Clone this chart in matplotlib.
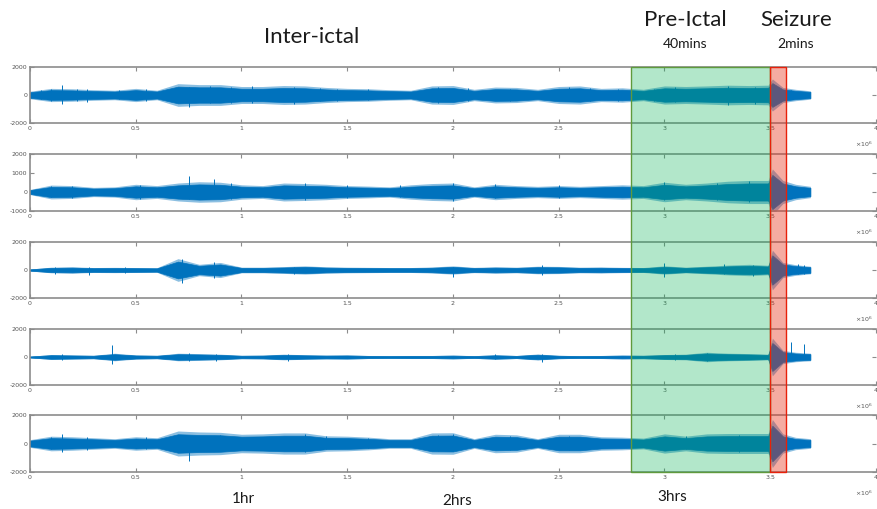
import matplotlib
matplotlib.use("Agg")
import matplotlib.pyplot as plt
import matplotlib.transforms as mtransforms
from matplotlib.patches import Rectangle
import numpy as np

# time axis of the amplitude envelope (x 1e6 samples)
t_env = [0.0, 0.1, 0.2, 0.3, 0.4, 0.5, 0.6, 0.7, 0.8, 0.9,
         1.0, 1.1, 1.2, 1.3, 1.4, 1.5, 1.6, 1.7, 1.8, 1.9,
         2.0, 2.1, 2.2, 2.3, 2.4, 2.5, 2.6, 2.7, 2.8, 2.9,
         3.0, 3.1, 3.2, 3.3, 3.4, 3.49, 3.51, 3.56, 3.62, 3.69]

# typical amplitude (half-width of the dense trace) per channel
env_ch1 = [200, 350, 330, 280, 250, 350, 250, 600, 550, 550,
           450, 450, 500, 480, 400, 350, 330, 280, 250, 480,
           500, 300, 420, 400, 300, 450, 480, 350, 380, 300,
           480, 450, 480, 520, 500, 520, 850, 400, 300, 220]
env_ch2 = [100, 270, 250, 180, 200, 300, 250, 350, 400, 380,
           280, 250, 350, 330, 300, 250, 230, 200, 280, 330,
           350, 200, 300, 250, 220, 250, 220, 250, 280, 250,
           380, 300, 350, 420, 450, 450, 900, 450, 300, 220]
env_ch3 = [50, 150, 170, 130, 140, 130, 120, 600, 300, 400,
           150, 150, 180, 220, 170, 150, 140, 130, 130, 160,
           220, 140, 170, 150, 200, 190, 150, 160, 140, 130,
           220, 150, 200, 260, 300, 250, 1050, 400, 280, 200]
env_ch4 = [40, 130, 110, 90, 200, 110, 90, 200, 180, 150,
           90, 100, 150, 120, 100, 110, 80, 70, 80, 80,
           100, 70, 120, 80, 160, 90, 70, 80, 100, 90,
           130, 150, 250, 200, 180, 150, 1000, 350, 250, 200]
env_ch5 = [200, 380, 350, 300, 250, 350, 300, 650, 600, 580,
           480, 500, 550, 550, 400, 380, 330, 250, 250, 550,
           560, 250, 480, 450, 250, 480, 480, 350, 330, 280,
           500, 380, 500, 520, 520, 520, 1250, 500, 320, 250]

# isolated spikes: (time x1e6, max, min)
spikes_ch1 = [(0.05, 350, -300), (0.1, 450, -400), (0.15, 700, -650), (0.22, 400, -450),
              (0.27, 450, -500), (0.42, 350, -300), (0.55, 450, -400), (0.75, 600, -850),
              (0.85, 650, -600), (0.95, 600, -550), (1.05, 650, -600), (1.25, 550, -650),
              (1.37, 500, -450), (1.45, 450, -450), (1.6, 450, -350), (1.93, 550, -550),
              (2.07, 500, -400), (2.27, 400, -450), (2.55, 550, -450), (2.65, 500, -400),
              (2.78, 450, -400), (2.95, 450, -450), (3.05, 550, -500), (3.3, 650, -700),
              (3.43, 600, -650), (3.6, 350, -300)]
spikes_ch2 = [(0.1, 300, -280), (0.2, 300, -300), (0.52, 380, -350), (0.75, 850, -350),
              (0.87, 700, -300), (0.95, 450, -350), (1.3, 500, -400), (1.5, 350, -300),
              (1.75, 350, -250), (2.0, 500, -450), (2.2, 400, -300), (2.5, 350, -300),
              (3.0, 550, -400), (3.25, 450, -400), (3.4, 600, -500)]
spikes_ch3 = [(0.12, 200, -250), (0.28, 200, -350), (0.45, 200, -200), (0.72, 800, -900),
              (0.87, 550, -550), (1.25, 250, -250), (2.0, 250, -530), (2.42, 350, -350),
              (3.0, 480, -500), (3.28, 400, -300), (3.42, 350, -400), (3.63, 400, -300),
              (3.66, 380, -250)]
spikes_ch4 = [(0.15, 200, -200), (0.39, 880, -500), (0.75, 300, -300), (0.88, 250, -250),
              (1.22, 200, -250), (2.2, 200, -150), (2.42, 250, -350), (3.05, 200, -200),
              (3.2, 300, -250), (3.6, 1100, -200), (3.66, 900, -150)]
spikes_ch5 = [(0.1, 450, -400), (0.15, 700, -600), (0.27, 450, -450), (0.55, 450, -400),
              (0.75, 500, -1200), (0.9, 600, -550), (1.3, 650, -600), (1.4, 500, -400),
              (1.6, 400, -350), (1.93, 600, -550), (2.0, 650, -550), (2.27, 500, -450),
              (2.55, 500, -450), (3.1, 500, -400), (3.35, 600, -600)]

envelopes = [env_ch1, env_ch2, env_ch3, env_ch4, env_ch5]
spikes = [spikes_ch1, spikes_ch2, spikes_ch3, spikes_ch4, spikes_ch5]
y_limits = [(-2000, 2000), (-1000, 2000), (-2000, 2000), (-2000, 2000), (-2000, 2000)]
y_ticks = [[-2000, 0, 2000], [-1000, 0, 1000, 2000], [-2000, 0, 2000],
           [-2000, 0, 2000], [-2000, 0, 2000]]
x_ticks = [0, 0.5, 1, 1.5, 2, 2.5, 3, 3.5, 4]

# phase boundaries (x1e6 samples)
preictal_start = 2.84
seizure_start = 3.5
seizure_end = 3.575

W, H = 877, 509
fig = plt.figure(figsize=(W / 100, H / 100), dpi=100)

# axes rows in pixels (top, bottom)
rows = [(67, 123), (154, 211), (242, 298), (329, 385), (415, 472)]
left_px, right_px = 30, 876

sig_color = "#0072BD"
grid_col = "#8c8c8c"
axes = []
for i, (top, bot) in enumerate(rows):
    ax = fig.add_axes([left_px / W, 1 - bot / H, (right_px - left_px) / W, (bot - top) / H])
    t = np.array(t_env) * 1e6
    env = np.array(envelopes[i])
    # fuzzy outer fringe + dense core of the trace
    ax.fill_between(t, -1.35 * env, 1.35 * env, color=sig_color, alpha=0.45, lw=0, zorder=1)
    ax.fill_between(t, -env, env, color=sig_color, lw=0.5, zorder=2)
    for (ts, hi, lo) in spikes[i]:
        ax.vlines(ts * 1e6, lo, hi, color=sig_color, lw=0.7, zorder=2)
    ax.set_xlim(0, 4e6)
    ax.set_ylim(*y_limits[i])
    ax.set_xticks([x * 1e6 for x in x_ticks])
    ax.set_xticklabels([f"{x:g}" for x in x_ticks])
    ax.set_yticks(y_ticks[i])
    ax.set_yticklabels([str(v) for v in y_ticks[i]])
    ax.tick_params(direction="in", length=3, width=0.8, color=grid_col,
                   labelsize=4.5, labelcolor="#555555", pad=2,
                   top=True, right=True)
    for s in ax.spines.values():
        s.set_color(grid_col)
        s.set_linewidth(1.2)
    ax.spines["right"].set_visible(False)
    ax.text(0.996, -0.38, r"$\times10^6$", transform=ax.transAxes,
            fontsize=4.5, color="#555555", ha="right", va="center")
    axes.append(ax)

# shaded phase boxes spanning all channels
y0 = 1 - rows[-1][1] / H
y1 = 1 - rows[0][0] / H
trans = mtransforms.blended_transform_factory(axes[0].transData, fig.transFigure)
green = Rectangle((preictal_start * 1e6, y0), (seizure_start - preictal_start) * 1e6, y1 - y0,
                  transform=trans, facecolor="#00b050", alpha=0.3, edgecolor="none", zorder=10)
green_edge = Rectangle((preictal_start * 1e6, y0), (seizure_start - preictal_start) * 1e6, y1 - y0,
                       transform=trans, facecolor="none", edgecolor="#5f9a3c", lw=1.0, zorder=11)
red = Rectangle((seizure_start * 1e6, y0), (seizure_end - seizure_start) * 1e6, y1 - y0,
                transform=trans, facecolor="#e83018", alpha=0.4, edgecolor="none", zorder=10)
red_edge = Rectangle((seizure_start * 1e6, y0), (seizure_end - seizure_start) * 1e6, y1 - y0,
                     transform=trans, facecolor="none", edgecolor="#e8200a", lw=1.0, zorder=11)
for p in (green, green_edge, red, red_edge):
    fig.add_artist(p)

# labels
font = "Lato"
def ftext(x, y, s, size):
    fig.text(x / W, 1 - y / H, s, fontsize=size, family=font, ha="center", va="center", color="#1a1a1a")

ftext(312, 37, "Inter-ictal", 16)
ftext(685, 20, "Pre-Ictal", 16)
ftext(685, 44, "40mins", 10)
ftext(796, 20, "Seizure", 16)
ftext(796, 44, "2mins", 10)
ftext(243, 499, "1hr", 11)
ftext(457, 501, "2hrs", 11)
ftext(672, 497, "3hrs", 11)

fig.savefig("out.png", dpi=100)
